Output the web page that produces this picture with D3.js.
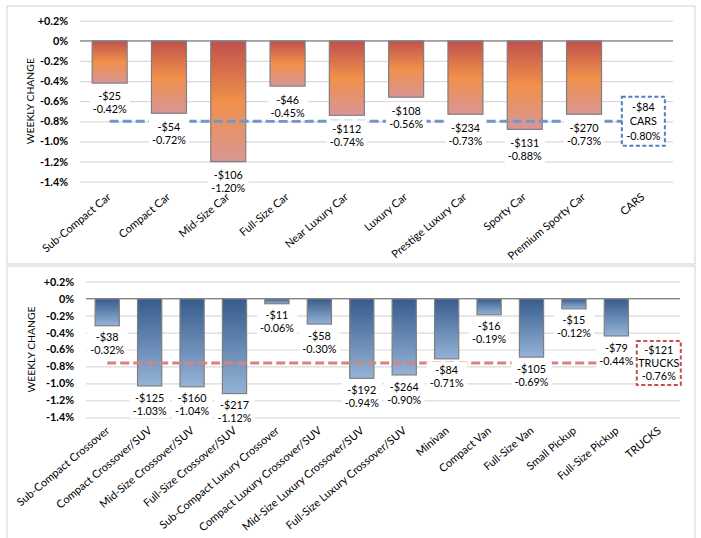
<!DOCTYPE html>
<html><head><meta charset="utf-8">
<script src="https://cdn.jsdelivr.net/npm/d3@7"></script>
<style>
html,body{margin:0;padding:0;background:#fff;}
svg text{font-family:Lato,"Noto Sans",sans-serif;fill:#000;}
</style></head>
<body>
<svg id="chart" width="701" height="538"></svg>
<script>
// ---- DATA ----
const carCategories = ["Sub-Compact Car","Compact Car","Mid-Size Car","Full-Size Car","Near Luxury Car","Luxury Car","Prestige Luxury Car","Sporty Car","Premium Sporty Car","CARS"];
const carPct = [-0.42,-0.72,-1.20,-0.45,-0.74,-0.56,-0.73,-0.88,-0.73];
const carDollars = [-25,-54,-106,-46,-112,-108,-234,-131,-270];
const carTotalPct = -0.80;
const carTotalDollars = -84;

const truckCategories = ["Sub-Compact Crossover","Compact Crossover/SUV","Mid-Size Crossover/SUV","Full-Size Crossover/SUV","Sub-Compact Luxury Crossover","Compact Luxury Crossover/SUV","Mid-Size Luxury Crossover/SUV","Full-Size Luxury Crossover/SUV","Minivan","Compact Van","Full-Size Van","Small Pickup","Full-Size Pickup","TRUCKS"];
const truckPct = [-0.32,-1.03,-1.04,-1.12,-0.06,-0.30,-0.94,-0.90,-0.71,-0.19,-0.69,-0.12,-0.44];
const truckDollars = [-38,-125,-160,-217,-11,-58,-192,-264,-84,-16,-105,-15,-79];
const truckTotalPct = -0.76;
const truckTotalDollars = -121;

const yTickValues = [0.2,0,-0.2,-0.4,-0.6,-0.8,-1.0,-1.2,-1.4];
const yTickLabels = ["+0.2%","0%","-0.2%","-0.4%","-0.6%","-0.8%","-1.0%","-1.2%","-1.4%"];
const yTitle = "WEEKLY CHANGE";

// ---- DRAW ----
const svg = d3.select("#chart");
const defs = svg.append("defs");
function grad(id, stops){
  const g = defs.append("linearGradient").attr("id",id).attr("x1",0).attr("y1",0).attr("x2",0).attr("y2",1);
  stops.forEach(s=>g.append("stop").attr("offset",s[0]).attr("stop-color",s[1]));
}
grad("gRed",[[0,"#c0504d"],[0.5,"#f0904a"],[1,"#d99694"]]);
grad("gBlue",[[0,"#365c8c"],[1,"#95b3d7"]]);

// panel borders
svg.append("rect").attr("x",7).attr("y",6).attr("width",688).attr("height",258)
  .attr("fill","none").attr("stroke","#d9d9d9").attr("stroke-width",1.2);
svg.append("rect").attr("x",7).attr("y",266).attr("width",688).attr("height",280)
  .attr("fill","none").attr("stroke","#d9d9d9").attr("stroke-width",1.2);

const fmtDollar = v => "-$" + Math.abs(v);
const fmtPct = v => (v<0?"-":"") + Math.abs(v).toFixed(2) + "%";
const LAB = 10.8;

function panel(o){
  const g = svg.append("g");
  const x = d3.scaleBand().domain(o.cats).range([o.left,o.right])
    .paddingInner(o.pad).paddingOuter(o.pad/2);
  const y = d3.scaleLinear().domain([-1.4,0.2]).range([o.bottom,o.top]);

  // grid + y labels
  const ax = g.append("g").attr("transform",`translate(${o.left},0)`)
    .call(d3.axisLeft(y).tickValues(yTickValues).tickSize(-(o.right-o.left)).tickPadding(12)
      .tickFormat((d,i)=>yTickLabels[i]));
  ax.select(".domain").remove();
  ax.selectAll(".tick line").attr("stroke","#d9d9d9").attr("stroke-width",1.2);
  ax.selectAll(".tick text").attr("font-size",10.8).attr("font-weight",700).attr("fill","#111")
    .style("font-family","Lato,'Noto Sans',sans-serif");

  // bars
  const data = o.pct.map((p,i)=>({c:o.cats[i],p:p,d:o.dollars[i]}));
  g.selectAll("rect.bar").data(data).enter().append("rect").attr("class","bar")
    .attr("x",d=>x(d.c)).attr("width",x.bandwidth())
    .attr("y",y(0)).attr("height",d=>y(d.p)-y(0))
    .attr("fill",`url(#${o.grad})`).attr("stroke","#7f7f7f").attr("stroke-width",1.2);

  // zero line
  g.append("line").attr("x1",o.left).attr("x2",o.right).attr("y1",y(0)).attr("y2",y(0))
    .attr("stroke","#868686").attr("stroke-width",1.2);

  // average dashed line
  const c0 = x(o.cats[0])+x.bandwidth()/2, cN = x(o.cats[o.cats.length-1])+x.bandwidth()/2;
  g.append("line").attr("x1",c0).attr("x2",cN).attr("y1",y(o.totalPct)).attr("y2",y(o.totalPct))
    .attr("stroke",o.lineColor).attr("stroke-width",3).attr("stroke-dasharray","9,4");

  // data labels
  data.forEach(d=>{
    const cx = x(d.c)+x.bandwidth()/2, ye = y(d.p);
    const lg = g.append("g");
    const r = lg.append("rect").attr("fill","#fff");
    lg.append("text").attr("x",cx).attr("y",ye+o.lab1).attr("text-anchor","middle").attr("font-size",LAB).text(fmtDollar(d.d));
    lg.append("text").attr("x",cx).attr("y",ye+o.lab1+13).attr("text-anchor","middle").attr("font-size",LAB).text(fmtPct(d.p));
    const bb = lg.node().getBBox();
    r.attr("x",bb.x-3).attr("y",bb.y-1.5).attr("width",bb.width+6).attr("height",bb.height+3);
  });

  // total box
  const tcx = cN, tcy = y(o.totalPct);
  const tg = g.append("g");
  const lines = [fmtDollar(o.totalDollars), o.totalName, fmtPct(o.totalPct)];
  tg.append("rect").attr("x",tcx-o.boxW/2).attr("y",tcy-o.boxH/2).attr("width",o.boxW).attr("height",o.boxH)
    .attr("fill","#fff").attr("stroke",o.boxColor).attr("stroke-width",2).attr("stroke-dasharray","4,2.5");
  lines.forEach((t,i)=>{
    tg.append("text").attr("x",tcx).attr("y",tcy+(i-1)*o.boxLine+4.1).attr("text-anchor","middle")
      .attr("font-size",LAB).text(t);
  });

  // x labels
  o.cats.forEach(c=>{
    const cx = x(c)+x.bandwidth()/2;
    g.append("text").attr("transform",`translate(${cx+o.xlabDx},${o.bottom+o.xlabOff}) rotate(-40)`)
      .attr("text-anchor","end").attr("font-size",11).attr("fill","#111").text(c);
  });

  // y title
  g.append("text").attr("transform",`translate(${o.titleX},${(o.top+o.bottom)/2}) rotate(-90)`)
    .attr("text-anchor","middle").attr("dy","0.35em").attr("font-size",10.4).text(yTitle);
}

panel({cats:carCategories,pct:carPct,dollars:carDollars,totalPct:carTotalPct,totalDollars:carTotalDollars,totalName:"CARS",
  left:80,right:673,top:20.7,bottom:181.7,pad:0.41,grad:"gRed",lineColor:"#7196ca",boxColor:"#4f7fc2",
  lab1:17.4,boxW:43,boxH:49,boxLine:14.5,xlabDx:2,xlabOff:16.5,titleX:30});
panel({cats:truckCategories,pct:truckPct,dollars:truckDollars,totalPct:truckTotalPct,totalDollars:truckTotalDollars,totalName:"TRUCKS",
  left:86,right:680,top:281.7,bottom:417.3,pad:0.43,grad:"gBlue",lineColor:"#d98282",boxColor:"#c0504d",
  lab1:15.6,boxW:44,boxH:44,boxLine:13,xlabDx:3,xlabOff:14.5,titleX:31});
</script>
</body></html>
